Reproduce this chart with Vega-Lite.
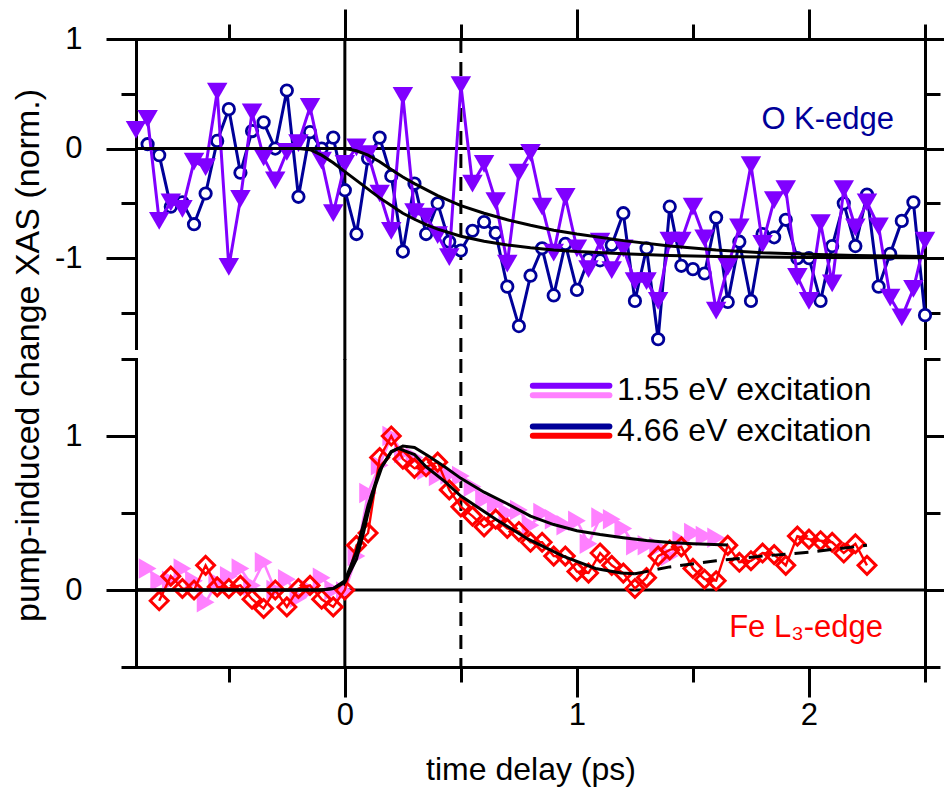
{
  "$schema": "https://vega.github.io/schema/vega-lite/v6.json",
  "padding": {"left": 10, "top": 7, "right": 0, "bottom": 5},
  "bounds": "flush",
  "spacing": 11,
  "config": {
    "view": {"stroke": null},
    "font": "Liberation Sans",
    "axis": {
      "grid": false,
      "domainColor": "black",
      "domainWidth": 3,
      "domainCap": "square",
      "tickColor": "black",
      "tickWidth": 3,
      "labelFont": "Liberation Sans",
      "labelFontSize": 31,
      "labelColor": "black",
      "labelFlush": false,
      "labelOverlap": false,
      "titleFont": "Liberation Sans",
      "titleFontSize": 32,
      "titleFontWeight": "normal",
      "titleColor": "black",
      "labelExpr": "replace(datum.label, '\u2212', '-')"
    }
  },
  "datasets": {
    "okTri": [
      {"t": -0.9, "v": 0.17}, {"t": -0.85, "v": 0.27}, {"t": -0.8, "v": -0.66}, {"t": -0.75, "v": -0.49},
      {"t": -0.7, "v": -0.55}, {"t": -0.65, "v": -0.12}, {"t": -0.6, "v": -0.17}, {"t": -0.55, "v": 0.52},
      {"t": -0.5, "v": -1.08}, {"t": -0.45, "v": -0.46}, {"t": -0.4, "v": 0.33}, {"t": -0.35, "v": -0.08},
      {"t": -0.3, "v": -0.29}, {"t": -0.25, "v": -0.03}, {"t": -0.2, "v": 0.05}, {"t": -0.15, "v": 0.38},
      {"t": -0.1, "v": -0.11}, {"t": -0.05, "v": -0.59}, {"t": 0.0, "v": -0.14}, {"t": 0.05, "v": 0.01},
      {"t": 0.1, "v": -0.05}, {"t": 0.15, "v": -0.41}, {"t": 0.2, "v": -0.75}, {"t": 0.25, "v": 0.48},
      {"t": 0.3, "v": -0.58}, {"t": 0.35, "v": -0.62}, {"t": 0.4, "v": -0.79}, {"t": 0.45, "v": -0.99},
      {"t": 0.5, "v": 0.58}, {"t": 0.55, "v": -0.32}, {"t": 0.6, "v": -0.14}, {"t": 0.65, "v": -0.48},
      {"t": 0.7, "v": -1.05}, {"t": 0.75, "v": -0.22}, {"t": 0.8, "v": -0.04}, {"t": 0.85, "v": -0.53},
      {"t": 0.9, "v": -0.95}, {"t": 0.95, "v": -0.44}, {"t": 1.0, "v": -0.91}, {"t": 1.05, "v": -1.1},
      {"t": 1.1, "v": -0.85}, {"t": 1.15, "v": -1.11}, {"t": 1.2, "v": -0.91}, {"t": 1.25, "v": -1.21},
      {"t": 1.3, "v": -1.21}, {"t": 1.35, "v": -1.39}, {"t": 1.4, "v": -0.84}, {"t": 1.45, "v": -0.84},
      {"t": 1.5, "v": -0.53}, {"t": 1.55, "v": -0.82}, {"t": 1.6, "v": -1.48}, {"t": 1.65, "v": -1.08},
      {"t": 1.7, "v": -0.72}, {"t": 1.75, "v": -0.15}, {"t": 1.8, "v": -0.87}, {"t": 1.85, "v": -0.47},
      {"t": 1.9, "v": -0.37}, {"t": 1.95, "v": -1.17}, {"t": 2.0, "v": -1.39}, {"t": 2.05, "v": -0.68},
      {"t": 2.1, "v": -1.23}, {"t": 2.15, "v": -0.37}, {"t": 2.2, "v": -0.72}, {"t": 2.25, "v": -0.49},
      {"t": 2.3, "v": -0.71}, {"t": 2.35, "v": -1.36}, {"t": 2.4, "v": -1.54}, {"t": 2.45, "v": -1.28},
      {"t": 2.5, "v": -0.84}
    ],
    "okCirc": [
      {"t": -0.85, "v": 0.04}, {"t": -0.8, "v": -0.06}, {"t": -0.75, "v": -0.53}, {"t": -0.7, "v": -0.49},
      {"t": -0.65, "v": -0.69}, {"t": -0.6, "v": -0.41}, {"t": -0.55, "v": 0.07}, {"t": -0.5, "v": 0.36},
      {"t": -0.45, "v": -0.22}, {"t": -0.4, "v": 0.16}, {"t": -0.35, "v": 0.24}, {"t": -0.3, "v": 0.0},
      {"t": -0.25, "v": 0.53}, {"t": -0.2, "v": -0.44}, {"t": -0.15, "v": 0.15}, {"t": -0.1, "v": 0.0},
      {"t": -0.05, "v": 0.1}, {"t": 0.0, "v": -0.38}, {"t": 0.05, "v": -0.78}, {"t": 0.1, "v": -0.09},
      {"t": 0.15, "v": 0.1}, {"t": 0.2, "v": -0.25}, {"t": 0.25, "v": -0.94}, {"t": 0.3, "v": -0.32},
      {"t": 0.35, "v": -0.78}, {"t": 0.4, "v": -0.5}, {"t": 0.45, "v": -0.85}, {"t": 0.5, "v": -0.93},
      {"t": 0.55, "v": -0.75}, {"t": 0.6, "v": -0.67}, {"t": 0.65, "v": -0.77}, {"t": 0.7, "v": -1.26},
      {"t": 0.75, "v": -1.62}, {"t": 0.8, "v": -1.16}, {"t": 0.85, "v": -0.91}, {"t": 0.9, "v": -1.34},
      {"t": 0.95, "v": -0.87}, {"t": 1.0, "v": -1.29}, {"t": 1.05, "v": -1.01}, {"t": 1.1, "v": -1.02},
      {"t": 1.15, "v": -0.88}, {"t": 1.2, "v": -0.59}, {"t": 1.25, "v": -1.39}, {"t": 1.3, "v": -0.91},
      {"t": 1.35, "v": -1.74}, {"t": 1.4, "v": -0.53}, {"t": 1.45, "v": -1.07}, {"t": 1.5, "v": -1.1},
      {"t": 1.55, "v": -1.14}, {"t": 1.6, "v": -0.63}, {"t": 1.65, "v": -1.4}, {"t": 1.7, "v": -0.85},
      {"t": 1.75, "v": -1.39}, {"t": 1.8, "v": -0.78}, {"t": 1.85, "v": -0.81}, {"t": 1.9, "v": -0.65},
      {"t": 1.95, "v": -1.0}, {"t": 2.0, "v": -1.0}, {"t": 2.05, "v": -1.39}, {"t": 2.1, "v": -0.89},
      {"t": 2.15, "v": -0.5}, {"t": 2.2, "v": -0.89}, {"t": 2.25, "v": -0.42}, {"t": 2.3, "v": -1.26},
      {"t": 2.35, "v": -0.96}, {"t": 2.4, "v": -0.66}, {"t": 2.45, "v": -0.49}, {"t": 2.5, "v": -1.52}
    ],
    "feTri": [
      {"t": -0.85, "v": 0.14}, {"t": -0.8, "v": 0.06}, {"t": -0.75, "v": 0.06}, {"t": -0.7, "v": 0.14},
      {"t": -0.65, "v": 0.06}, {"t": -0.6, "v": -0.08}, {"t": -0.55, "v": 0.05}, {"t": -0.5, "v": 0.09},
      {"t": -0.45, "v": 0.14}, {"t": -0.4, "v": 0.03}, {"t": -0.35, "v": 0.18}, {"t": -0.3, "v": 0.0},
      {"t": -0.25, "v": 0.07}, {"t": -0.2, "v": -0.05}, {"t": -0.15, "v": 0.0}, {"t": -0.1, "v": 0.08},
      {"t": -0.05, "v": 0.0}, {"t": 0.0, "v": -0.01}, {"t": 0.05, "v": 0.22}, {"t": 0.1, "v": 0.63},
      {"t": 0.15, "v": 0.81}, {"t": 0.2, "v": 1.0}, {"t": 0.25, "v": 0.89}, {"t": 0.3, "v": 0.86},
      {"t": 0.35, "v": 0.78}, {"t": 0.4, "v": 0.74}, {"t": 0.45, "v": 0.75}, {"t": 0.5, "v": 0.74},
      {"t": 0.55, "v": 0.67}, {"t": 0.6, "v": 0.59}, {"t": 0.65, "v": 0.56}, {"t": 0.7, "v": 0.5},
      {"t": 0.75, "v": 0.52}, {"t": 0.8, "v": 0.42}, {"t": 0.85, "v": 0.5}, {"t": 0.9, "v": 0.46},
      {"t": 0.95, "v": 0.42}, {"t": 1.0, "v": 0.45}, {"t": 1.05, "v": 0.3}, {"t": 1.1, "v": 0.47},
      {"t": 1.15, "v": 0.46}, {"t": 1.2, "v": 0.4}, {"t": 1.25, "v": 0.29}, {"t": 1.3, "v": 0.29},
      {"t": 1.35, "v": 0.28}, {"t": 1.4, "v": 0.22}, {"t": 1.45, "v": 0.32}, {"t": 1.5, "v": 0.37},
      {"t": 1.55, "v": 0.35}, {"t": 1.6, "v": 0.34}
    ],
    "feDia": [
      {"t": -0.8, "v": -0.07}, {"t": -0.75, "v": 0.09}, {"t": -0.7, "v": 0.01}, {"t": -0.65, "v": 0.0},
      {"t": -0.6, "v": 0.16}, {"t": -0.55, "v": 0.02}, {"t": -0.5, "v": 0.01}, {"t": -0.45, "v": 0.03},
      {"t": -0.4, "v": -0.06}, {"t": -0.35, "v": -0.12}, {"t": -0.3, "v": 0.0}, {"t": -0.25, "v": -0.11},
      {"t": -0.2, "v": 0.01}, {"t": -0.15, "v": 0.03}, {"t": -0.1, "v": -0.06}, {"t": -0.05, "v": -0.11},
      {"t": 0.0, "v": 0.0}, {"t": 0.05, "v": 0.29}, {"t": 0.1, "v": 0.37}, {"t": 0.15, "v": 0.86},
      {"t": 0.2, "v": 1.0}, {"t": 0.25, "v": 0.85}, {"t": 0.3, "v": 0.79}, {"t": 0.35, "v": 0.8},
      {"t": 0.4, "v": 0.83}, {"t": 0.45, "v": 0.65}, {"t": 0.5, "v": 0.54}, {"t": 0.55, "v": 0.48},
      {"t": 0.6, "v": 0.41}, {"t": 0.65, "v": 0.46}, {"t": 0.7, "v": 0.4}, {"t": 0.75, "v": 0.38},
      {"t": 0.8, "v": 0.31}, {"t": 0.85, "v": 0.31}, {"t": 0.9, "v": 0.22}, {"t": 0.95, "v": 0.22},
      {"t": 1.0, "v": 0.12}, {"t": 1.05, "v": 0.11}, {"t": 1.1, "v": 0.24}, {"t": 1.15, "v": 0.16},
      {"t": 1.2, "v": 0.11}, {"t": 1.25, "v": 0.01}, {"t": 1.3, "v": 0.08}, {"t": 1.35, "v": 0.22},
      {"t": 1.4, "v": 0.26}, {"t": 1.45, "v": 0.28}, {"t": 1.5, "v": 0.14}, {"t": 1.55, "v": 0.07},
      {"t": 1.6, "v": 0.06}, {"t": 1.65, "v": 0.29}, {"t": 1.7, "v": 0.18}, {"t": 1.75, "v": 0.19},
      {"t": 1.8, "v": 0.24}, {"t": 1.85, "v": 0.23}, {"t": 1.9, "v": 0.16}, {"t": 1.95, "v": 0.35},
      {"t": 2.0, "v": 0.33}, {"t": 2.05, "v": 0.32}, {"t": 2.1, "v": 0.31}, {"t": 2.15, "v": 0.24},
      {"t": 2.2, "v": 0.3}, {"t": 2.25, "v": 0.16}
    ],
    "fitO": [
      {"f": "a", "t": -0.9, "v": 0.0}, {"f": "a", "t": -0.2, "v": 0.0}, {"f": "a", "t": -0.15, "v": -0.01},
      {"f": "a", "t": -0.1, "v": -0.06}, {"f": "a", "t": -0.05, "v": -0.13}, {"f": "a", "t": 0.0, "v": -0.21},
      {"f": "a", "t": 0.05, "v": -0.29}, {"f": "a", "t": 0.1, "v": -0.37}, {"f": "a", "t": 0.15, "v": -0.45},
      {"f": "a", "t": 0.2, "v": -0.52}, {"f": "a", "t": 0.25, "v": -0.59}, {"f": "a", "t": 0.3, "v": -0.645},
      {"f": "a", "t": 0.35, "v": -0.695}, {"f": "a", "t": 0.4, "v": -0.735}, {"f": "a", "t": 0.5, "v": -0.8},
      {"f": "a", "t": 0.6, "v": -0.845}, {"f": "a", "t": 0.7, "v": -0.88}, {"f": "a", "t": 0.8, "v": -0.905},
      {"f": "a", "t": 0.9, "v": -0.925}, {"f": "a", "t": 1.0, "v": -0.94}, {"f": "a", "t": 1.2, "v": -0.96},
      {"f": "a", "t": 1.4, "v": -0.975}, {"f": "a", "t": 1.6, "v": -0.985}, {"f": "a", "t": 1.8, "v": -0.99},
      {"f": "a", "t": 2.0, "v": -0.993}, {"f": "a", "t": 2.5, "v": -0.997},
      {"f": "b", "t": -0.9, "v": 0.0}, {"f": "b", "t": 0.0, "v": 0.0}, {"f": "b", "t": 0.05, "v": -0.02},
      {"f": "b", "t": 0.1, "v": -0.06}, {"f": "b", "t": 0.15, "v": -0.12}, {"f": "b", "t": 0.2, "v": -0.19},
      {"f": "b", "t": 0.25, "v": -0.26}, {"f": "b", "t": 0.3, "v": -0.32}, {"f": "b", "t": 0.4, "v": -0.43},
      {"f": "b", "t": 0.5, "v": -0.52}, {"f": "b", "t": 0.6, "v": -0.59}, {"f": "b", "t": 0.7, "v": -0.65},
      {"f": "b", "t": 0.8, "v": -0.7}, {"f": "b", "t": 0.9, "v": -0.745}, {"f": "b", "t": 1.0, "v": -0.78},
      {"f": "b", "t": 1.2, "v": -0.84}, {"f": "b", "t": 1.4, "v": -0.89}, {"f": "b", "t": 1.6, "v": -0.925},
      {"f": "b", "t": 1.8, "v": -0.95}, {"f": "b", "t": 2.0, "v": -0.965}, {"f": "b", "t": 2.2, "v": -0.975},
      {"f": "b", "t": 2.5, "v": -0.985}
    ],
    "fitFe": [
      {"f": "pink", "t": -0.9, "v": 0.0}, {"f": "pink", "t": -0.1, "v": 0.0}, {"f": "pink", "t": -0.05, "v": 0.01},
      {"f": "pink", "t": 0.0, "v": 0.05}, {"f": "pink", "t": 0.05, "v": 0.2}, {"f": "pink", "t": 0.08, "v": 0.37},
      {"f": "pink", "t": 0.1, "v": 0.5}, {"f": "pink", "t": 0.13, "v": 0.67}, {"f": "pink", "t": 0.16, "v": 0.8},
      {"f": "pink", "t": 0.2, "v": 0.895}, {"f": "pink", "t": 0.25, "v": 0.935}, {"f": "pink", "t": 0.3, "v": 0.925},
      {"f": "pink", "t": 0.36, "v": 0.87}, {"f": "pink", "t": 0.43, "v": 0.8}, {"f": "pink", "t": 0.5, "v": 0.725},
      {"f": "pink", "t": 0.6, "v": 0.635}, {"f": "pink", "t": 0.7, "v": 0.56}, {"f": "pink", "t": 0.8, "v": 0.48},
      {"f": "pink", "t": 0.9, "v": 0.425}, {"f": "pink", "t": 1.0, "v": 0.385}, {"f": "pink", "t": 1.1, "v": 0.36},
      {"f": "pink", "t": 1.2, "v": 0.34}, {"f": "pink", "t": 1.3, "v": 0.322}, {"f": "pink", "t": 1.4, "v": 0.308},
      {"f": "pink", "t": 1.5, "v": 0.3}, {"f": "pink", "t": 1.65, "v": 0.292},
      {"f": "red", "t": -0.9, "v": 0.0}, {"f": "red", "t": -0.1, "v": 0.0}, {"f": "red", "t": -0.05, "v": 0.01},
      {"f": "red", "t": 0.0, "v": 0.06}, {"f": "red", "t": 0.05, "v": 0.25}, {"f": "red", "t": 0.1, "v": 0.55},
      {"f": "red", "t": 0.15, "v": 0.78}, {"f": "red", "t": 0.2, "v": 0.9}, {"f": "red", "t": 0.23, "v": 0.92},
      {"f": "red", "t": 0.3, "v": 0.88}, {"f": "red", "t": 0.35, "v": 0.8}, {"f": "red", "t": 0.43, "v": 0.705},
      {"f": "red", "t": 0.5, "v": 0.61}, {"f": "red", "t": 0.65, "v": 0.46}, {"f": "red", "t": 0.79, "v": 0.33},
      {"f": "red", "t": 0.94, "v": 0.22}, {"f": "red", "t": 1.08, "v": 0.14}, {"f": "red", "t": 1.19, "v": 0.11},
      {"f": "red", "t": 1.25, "v": 0.105}
    ],
    "fitFeDash": [
      {"t": 1.25, "v": 0.105}, {"t": 1.4, "v": 0.15}, {"t": 1.6, "v": 0.19}, {"t": 1.8, "v": 0.22},
      {"t": 2.0, "v": 0.245}, {"t": 2.25, "v": 0.29}
    ],
    "legendLines": [
      {"s": "a", "t": 0.81, "t2": 1.14, "v": 1.327},
      {"s": "b", "t": 0.81, "t2": 1.14, "v": 1.264},
      {"s": "c", "t": 0.81, "t2": 1.14, "v": 1.062},
      {"s": "d", "t": 0.81, "t2": 1.14, "v": 1.002}
    ],
    "legendText": [
      {"t": 1.173, "v": 1.296, "label": "1.55 eV excitation"},
      {"t": 1.173, "v": 1.03, "label": "4.66 eV excitation"}
    ]
  },
  "vconcat": [
    {
      "width": 789,
      "height": 309,
      "resolve": {"axis": {"x": "independent", "y": "independent"}},
      "layer": [
        {
          "data": {"values": [{"t": 0, "v": 1, "v2": -1.93}]},
          "mark": {"type": "rule", "color": "black", "strokeWidth": 3},
          "encoding": {
            "x": {"field": "t", "type": "quantitative", "scale": {"domain": [-0.9, 2.5], "nice": false, "zero": false},
              "axis": {"orient": "top", "values": [0, 1, 2], "tickSize": 30, "labels": false, "title": null}},
            "y": {"field": "v", "type": "quantitative", "scale": {"domain": [-1.82, 1], "nice": false, "zero": false},
              "axis": {"orient": "left", "values": [-1, 0, 1], "tickSize": 30, "labelPadding": 24,
                "title": "pump-induced change XAS (norm.)", "titleFontSize": 34, "titleX": -108, "titleY": 316, "titleAngle": 270,
                "titleAlign": "center", "titleBaseline": "middle"}},
            "y2": {"field": "v2"}
          }
        },
        {
          "data": {"values": [{"t": 0.5, "v": 1, "v2": -1.93}]},
          "mark": {"type": "rule", "color": "black", "strokeWidth": 3, "strokeDash": [14, 9]},
          "encoding": {
            "x": {"field": "t", "type": "quantitative", "scale": {"domain": [-0.9, 2.5], "nice": false, "zero": false},
              "axis": {"orient": "top", "values": [-0.5, 0.5, 1.5, 2.5], "tickSize": 15, "labels": false, "domain": false, "title": null}},
            "y": {"field": "v", "type": "quantitative", "scale": {"domain": [-1.82, 1], "nice": false, "zero": false},
              "axis": {"orient": "left", "values": [-1.5, -0.5, 0.5], "tickSize": 15, "labels": false, "domain": false, "title": null}},
            "y2": {"field": "v2"}
          }
        },
        {
          "data": {"values": [{"t": -0.9, "t2": 2.5, "v": 0}]},
          "mark": {"type": "rule", "color": "black", "strokeWidth": 3},
          "encoding": {
            "x": {"field": "t", "type": "quantitative", "scale": {"domain": [-0.9, 2.5], "nice": false, "zero": false}, "axis": null},
            "x2": {"field": "t2"},
            "y": {"field": "v", "type": "quantitative", "scale": {"domain": [-1.82, 1], "nice": false, "zero": false},
              "axis": {"orient": "right", "values": [-1, 0, 1], "tickSize": 30, "labels": false, "title": null}}
          }
        },
        {
          "data": {"name": "okCirc"},
          "mark": {"type": "line", "color": "#000099", "strokeWidth": 3},
          "encoding": {
            "x": {"field": "t", "type": "quantitative", "scale": {"domain": [-0.9, 2.5], "nice": false, "zero": false}, "axis": null},
            "y": {"field": "v", "type": "quantitative", "scale": {"domain": [-1.82, 1], "nice": false, "zero": false},
              "axis": {"orient": "right", "values": [-1.5, -0.5, 0.5], "tickSize": 15, "labels": false, "domain": false, "title": null}}
          }
        },
        {
          "data": {"name": "okCirc"},
          "mark": {"type": "point", "shape": "circle", "filled": true, "fill": "white", "stroke": "#000099", "strokeWidth": 2.8, "size": 130, "opacity": 1},
          "encoding": {
            "x": {"field": "t", "type": "quantitative", "scale": {"domain": [-0.9, 2.5], "nice": false, "zero": false}, "axis": null},
            "y": {"field": "v", "type": "quantitative", "scale": {"domain": [-1.82, 1], "nice": false, "zero": false}, "axis": null}
          }
        },
        {
          "data": {"name": "okTri"},
          "mark": {"type": "line", "color": "#8000FF", "strokeWidth": 3},
          "encoding": {
            "x": {"field": "t", "type": "quantitative", "scale": {"domain": [-0.9, 2.5], "nice": false, "zero": false}, "axis": null},
            "y": {"field": "v", "type": "quantitative", "scale": {"domain": [-1.82, 1], "nice": false, "zero": false}, "axis": null}
          }
        },
        {
          "data": {"name": "okTri"},
          "mark": {"type": "point", "shape": "triangle-down", "filled": true, "color": "#8000FF", "size": 420, "opacity": 1},
          "encoding": {
            "x": {"field": "t", "type": "quantitative", "scale": {"domain": [-0.9, 2.5], "nice": false, "zero": false}, "axis": null},
            "y": {"field": "v", "type": "quantitative", "scale": {"domain": [-1.82, 1], "nice": false, "zero": false}, "axis": null}
          }
        },
        {
          "data": {"name": "fitO"},
          "mark": {"type": "line", "color": "black", "strokeWidth": 3},
          "encoding": {
            "detail": {"field": "f", "type": "nominal"},
            "x": {"field": "t", "type": "quantitative", "scale": {"domain": [-0.9, 2.5], "nice": false, "zero": false}, "axis": null},
            "y": {"field": "v", "type": "quantitative", "scale": {"domain": [-1.82, 1], "nice": false, "zero": false}, "axis": null}
          }
        },
        {
          "data": {"values": [{"t": 1.795, "v": 0.258, "label": "O K-edge"}]},
          "mark": {"type": "text", "font": "Liberation Sans", "fontSize": 31, "color": "#000099", "align": "left", "baseline": "middle"},
          "encoding": {
            "x": {"field": "t", "type": "quantitative", "scale": {"domain": [-0.9, 2.5], "nice": false, "zero": false}, "axis": null},
            "y": {"field": "v", "type": "quantitative", "scale": {"domain": [-1.82, 1], "nice": false, "zero": false}, "axis": null},
            "text": {"field": "label"}
          }
        }
      ]
    },
    {
      "width": 789,
      "height": 308,
      "resolve": {"axis": {"x": "independent", "y": "independent"}},
      "layer": [
        {
          "data": {"values": [{"t": 0, "v": 1.5, "v2": -0.5}]},
          "mark": {"type": "rule", "color": "black", "strokeWidth": 3},
          "encoding": {
            "x": {"field": "t", "type": "quantitative", "scale": {"domain": [-0.9, 2.5], "nice": false, "zero": false},
              "axis": {"orient": "bottom", "values": [0, 1, 2], "tickSize": 30, "labelPadding": 3, "title": "time delay (ps)", "titlePadding": 24}},
            "y": {"field": "v", "type": "quantitative", "scale": {"domain": [-0.5, 1.5], "nice": false, "zero": false},
              "axis": {"orient": "left", "values": [0, 1], "tickSize": 30, "labelPadding": 24, "title": null}},
            "y2": {"field": "v2"}
          }
        },
        {
          "data": {"values": [{"t": 0.5, "v": 1.5, "v2": -0.5}]},
          "mark": {"type": "rule", "color": "black", "strokeWidth": 3, "strokeDash": [14, 9]},
          "encoding": {
            "x": {"field": "t", "type": "quantitative", "scale": {"domain": [-0.9, 2.5], "nice": false, "zero": false},
              "axis": {"orient": "bottom", "values": [-0.5, 0.5, 1.5, 2.5], "tickSize": 15, "labels": false, "domain": false, "title": null}},
            "y": {"field": "v", "type": "quantitative", "scale": {"domain": [-0.5, 1.5], "nice": false, "zero": false},
              "axis": {"orient": "left", "values": [-0.5, 0.5, 1.5], "tickSize": 15, "labels": false, "domain": false, "title": null}},
            "y2": {"field": "v2"}
          }
        },
        {
          "data": {"values": [{"t": -0.9, "t2": 2.5, "v": 0}]},
          "mark": {"type": "rule", "color": "black", "strokeWidth": 3},
          "encoding": {
            "x": {"field": "t", "type": "quantitative", "scale": {"domain": [-0.9, 2.5], "nice": false, "zero": false}, "axis": null},
            "x2": {"field": "t2"},
            "y": {"field": "v", "type": "quantitative", "scale": {"domain": [-0.5, 1.5], "nice": false, "zero": false},
              "axis": {"orient": "right", "values": [0, 1], "tickSize": 30, "labels": false, "title": null}}
          }
        },
        {
          "data": {"name": "feTri"},
          "mark": {"type": "line", "color": "#FF80FF", "strokeWidth": 2.6},
          "encoding": {
            "x": {"field": "t", "type": "quantitative", "scale": {"domain": [-0.9, 2.5], "nice": false, "zero": false}, "axis": null},
            "y": {"field": "v", "type": "quantitative", "scale": {"domain": [-0.5, 1.5], "nice": false, "zero": false},
              "axis": {"orient": "right", "values": [-0.5, 0.5, 1.5], "tickSize": 15, "labels": false, "domain": false, "title": null}}
          }
        },
        {
          "data": {"name": "feTri"},
          "mark": {"type": "point", "shape": "triangle-right", "filled": true, "color": "#FF80FF", "size": 420, "opacity": 1},
          "encoding": {
            "x": {"field": "t", "type": "quantitative", "scale": {"domain": [-0.9, 2.5], "nice": false, "zero": false}, "axis": null},
            "y": {"field": "v", "type": "quantitative", "scale": {"domain": [-0.5, 1.5], "nice": false, "zero": false}, "axis": null}
          }
        },
        {
          "data": {"name": "feDia"},
          "mark": {"type": "line", "color": "#FF0000", "strokeWidth": 2.4},
          "encoding": {
            "x": {"field": "t", "type": "quantitative", "scale": {"domain": [-0.9, 2.5], "nice": false, "zero": false}, "axis": null},
            "y": {"field": "v", "type": "quantitative", "scale": {"domain": [-0.5, 1.5], "nice": false, "zero": false}, "axis": null}
          }
        },
        {
          "data": {"name": "feDia"},
          "mark": {"type": "point", "shape": "diamond", "filled": false, "color": "#FF0000", "strokeWidth": 3, "size": 320, "opacity": 1},
          "encoding": {
            "x": {"field": "t", "type": "quantitative", "scale": {"domain": [-0.9, 2.5], "nice": false, "zero": false}, "axis": null},
            "y": {"field": "v", "type": "quantitative", "scale": {"domain": [-0.5, 1.5], "nice": false, "zero": false}, "axis": null}
          }
        },
        {
          "data": {"name": "fitFe"},
          "mark": {"type": "line", "color": "black", "strokeWidth": 3},
          "encoding": {
            "detail": {"field": "f", "type": "nominal"},
            "x": {"field": "t", "type": "quantitative", "scale": {"domain": [-0.9, 2.5], "nice": false, "zero": false}, "axis": null},
            "y": {"field": "v", "type": "quantitative", "scale": {"domain": [-0.5, 1.5], "nice": false, "zero": false}, "axis": null}
          }
        },
        {
          "data": {"name": "fitFeDash"},
          "mark": {"type": "line", "color": "black", "strokeWidth": 3, "strokeDash": [14, 9]},
          "encoding": {
            "x": {"field": "t", "type": "quantitative", "scale": {"domain": [-0.9, 2.5], "nice": false, "zero": false}, "axis": null},
            "y": {"field": "v", "type": "quantitative", "scale": {"domain": [-0.5, 1.5], "nice": false, "zero": false}, "axis": null}
          }
        },
        {
          "data": {"name": "legendLines"},
          "mark": {"type": "rule", "strokeWidth": 6, "strokeCap": "round"},
          "encoding": {
            "x": {"field": "t", "type": "quantitative", "scale": {"domain": [-0.9, 2.5], "nice": false, "zero": false}, "axis": null},
            "x2": {"field": "t2"},
            "y": {"field": "v", "type": "quantitative", "scale": {"domain": [-0.5, 1.5], "nice": false, "zero": false}, "axis": null},
            "color": {"field": "s", "type": "nominal", "legend": null,
              "scale": {"domain": ["a", "b", "c", "d"], "range": ["#8000FF", "#FF80FF", "#000099", "#FF0000"]}}
          }
        },
        {
          "data": {"name": "legendText"},
          "mark": {"type": "text", "font": "Liberation Sans", "fontSize": 32, "color": "black", "align": "left", "baseline": "middle"},
          "encoding": {
            "x": {"field": "t", "type": "quantitative", "scale": {"domain": [-0.9, 2.5], "nice": false, "zero": false}, "axis": null},
            "y": {"field": "v", "type": "quantitative", "scale": {"domain": [-0.5, 1.5], "nice": false, "zero": false}, "axis": null},
            "text": {"field": "label"}
          }
        },
        {
          "data": {"values": [{"t": 1.656, "v": -0.245, "label": "Fe L\u2083-edge"}]},
          "mark": {"type": "text", "font": "Liberation Sans", "fontSize": 31, "color": "#FF0000", "align": "left", "baseline": "middle"},
          "encoding": {
            "x": {"field": "t", "type": "quantitative", "scale": {"domain": [-0.9, 2.5], "nice": false, "zero": false}, "axis": null},
            "y": {"field": "v", "type": "quantitative", "scale": {"domain": [-0.5, 1.5], "nice": false, "zero": false}, "axis": null},
            "text": {"field": "label"}
          }
        }
      ]
    }
  ]
}
